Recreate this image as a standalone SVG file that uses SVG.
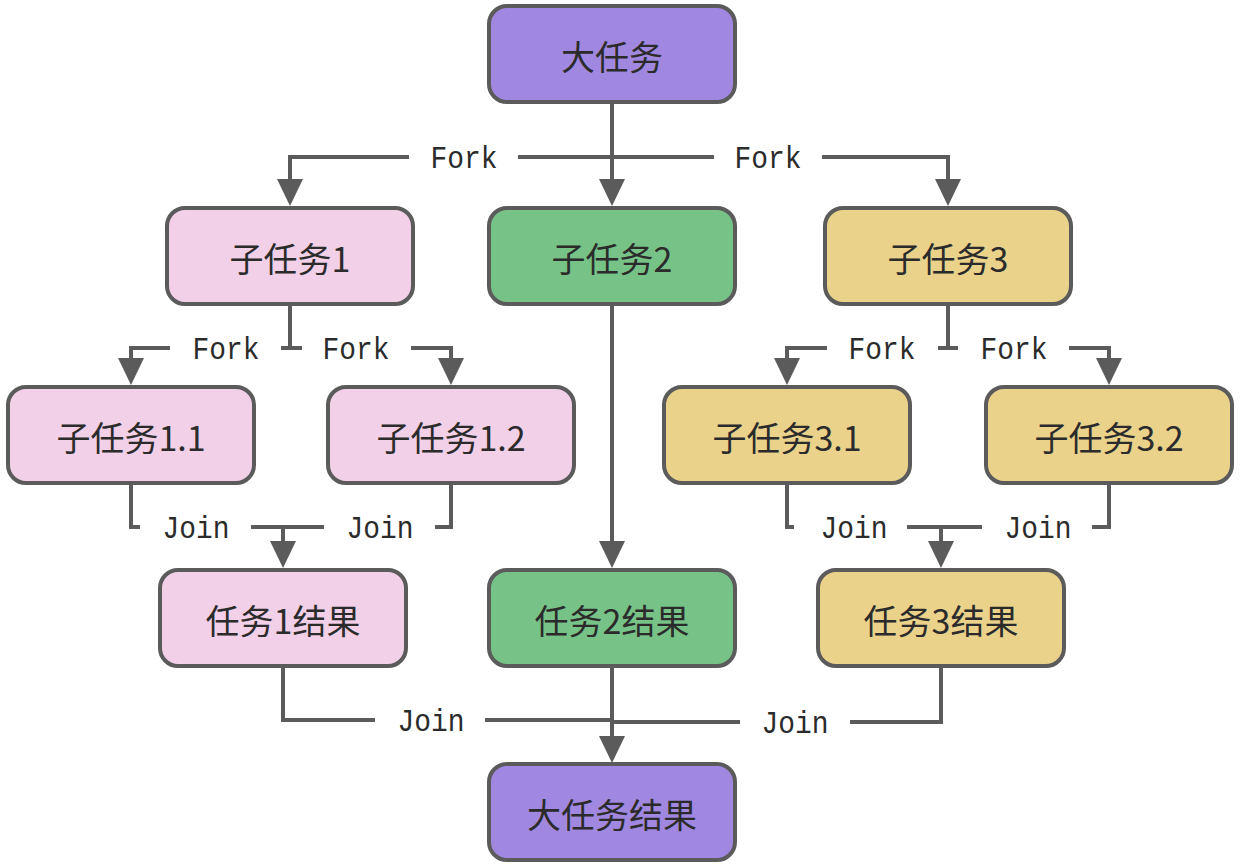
<svg xmlns="http://www.w3.org/2000/svg" width="1240" height="867" viewBox="0 0 1240 867">
<style>
.box{stroke:#5b5b5b;stroke-width:4}
.purple{fill:#a088e0}
.pink{fill:#f2d0e8}
.green{fill:#77c387}
.yellow{fill:#ead28b}
.nt{font-family:"Noto Sans CJK SC","Noto Sans",sans-serif;font-size:34px;fill:#2b2b2b;text-anchor:middle;dominant-baseline:central}
.ln{fill:none;stroke:#5b5b5b;stroke-width:4}
.lb{font-family:"Liberation Mono","DejaVu Sans Mono",monospace;font-size:32px;fill:#2b2b2b;text-anchor:middle}
</style>
<defs>
<marker id="arr" markerUnits="userSpaceOnUse" markerWidth="28" markerHeight="28" viewBox="0 0 28 28" refX="19" refY="13" orient="auto">
<path d="M0,0 L27,13 L0,26 Z" fill="#5b5b5b"/>
</marker>
</defs>
<rect width="1240" height="867" fill="#ffffff"/>
<g id="connectors">
<path class="ln" d="M612,104 V198" marker-end="url(#arr)"/>
<path class="ln" d="M409,157 H290 V198" marker-end="url(#arr)"/>
<path class="ln" d="M518,157 H714"/>
<path class="ln" d="M822,157 H948 V198" marker-end="url(#arr)"/>
<text class="lb" x="464" y="168" textLength="67" lengthAdjust="spacingAndGlyphs">Fork</text>
<text class="lb" x="768" y="168" textLength="67" lengthAdjust="spacingAndGlyphs">Fork</text>

<path class="ln" d="M290,306 V348 M281,348 H302"/>
<path class="ln" d="M170,348 H131 V377" marker-end="url(#arr)"/>
<path class="ln" d="M411,348 H451 V377" marker-end="url(#arr)"/>
<text class="lb" x="226" y="359" textLength="67" lengthAdjust="spacingAndGlyphs">Fork</text>
<text class="lb" x="356" y="359" textLength="67" lengthAdjust="spacingAndGlyphs">Fork</text>

<path class="ln" d="M948,306 V348 M938,348 H958"/>
<path class="ln" d="M827,348 H787 V377" marker-end="url(#arr)"/>
<path class="ln" d="M1069,348 H1109 V377" marker-end="url(#arr)"/>
<text class="lb" x="882" y="359" textLength="67" lengthAdjust="spacingAndGlyphs">Fork</text>
<text class="lb" x="1014" y="359" textLength="67" lengthAdjust="spacingAndGlyphs">Fork</text>

<path class="ln" d="M612,306 V560" marker-end="url(#arr)"/>

<path class="ln" d="M131,485 V527 H140"/>
<path class="ln" d="M251,527 H324"/>
<path class="ln" d="M435,527 H451 V485"/>
<path class="ln" d="M283,527 V560" marker-end="url(#arr)"/>
<text class="lb" x="196" y="538" textLength="67" lengthAdjust="spacingAndGlyphs">Join</text>
<text class="lb" x="380" y="538" textLength="67" lengthAdjust="spacingAndGlyphs">Join</text>

<path class="ln" d="M787,485 V527 H794"/>
<path class="ln" d="M907,527 H982"/>
<path class="ln" d="M1092,527 H1109 V485"/>
<path class="ln" d="M941,527 V560" marker-end="url(#arr)"/>
<text class="lb" x="854" y="538" textLength="67" lengthAdjust="spacingAndGlyphs">Join</text>
<text class="lb" x="1038" y="538" textLength="67" lengthAdjust="spacingAndGlyphs">Join</text>

<path class="ln" d="M283,668 V720 H375"/>
<path class="ln" d="M485,720 H612"/>
<path class="ln" d="M941,668 V722 H850"/>
<path class="ln" d="M740,722 H612"/>
<path class="ln" d="M612,668 V755" marker-end="url(#arr)"/>
<text class="lb" x="431" y="731" textLength="67" lengthAdjust="spacingAndGlyphs">Join</text>
<text class="lb" x="795" y="733" textLength="67" lengthAdjust="spacingAndGlyphs">Join</text>
</g>

<g id="n-big"><rect class="box purple" x="489" y="6" width="246" height="96" rx="18"/><text class="nt" x="612" y="55">大任务</text></g>
<g id="n-sub1"><rect class="box pink" x="167" y="208" width="246" height="96" rx="18"/><text class="nt" x="290" y="257">子任务1</text></g>
<g id="n-sub2"><rect class="box green" x="489" y="208" width="246" height="96" rx="18"/><text class="nt" x="612" y="257">子任务2</text></g>
<g id="n-sub3"><rect class="box yellow" x="825" y="208" width="246" height="96" rx="18"/><text class="nt" x="948" y="257">子任务3</text></g>
<g id="n-sub11"><rect class="box pink" x="8" y="387" width="246" height="96" rx="18"/><text class="nt" x="131" y="436">子任务1.1</text></g>
<g id="n-sub12"><rect class="box pink" x="328" y="387" width="246" height="96" rx="18"/><text class="nt" x="451" y="436">子任务1.2</text></g>
<g id="n-sub31"><rect class="box yellow" x="664" y="387" width="246" height="96" rx="18"/><text class="nt" x="787" y="436">子任务3.1</text></g>
<g id="n-sub32"><rect class="box yellow" x="986" y="387" width="246" height="96" rx="18"/><text class="nt" x="1109" y="436">子任务3.2</text></g>
<g id="n-res1"><rect class="box pink" x="160" y="570" width="246" height="96" rx="18"/><text class="nt" x="283" y="619">任务1结果</text></g>
<g id="n-res2"><rect class="box green" x="489" y="570" width="246" height="96" rx="18"/><text class="nt" x="612" y="619">任务2结果</text></g>
<g id="n-res3"><rect class="box yellow" x="818" y="570" width="246" height="96" rx="18"/><text class="nt" x="941" y="619">任务3结果</text></g>
<g id="n-bigres"><rect class="box purple" x="489" y="764" width="246" height="96" rx="18"/><text class="nt" x="612" y="813">大任务结果</text></g>
</svg>
